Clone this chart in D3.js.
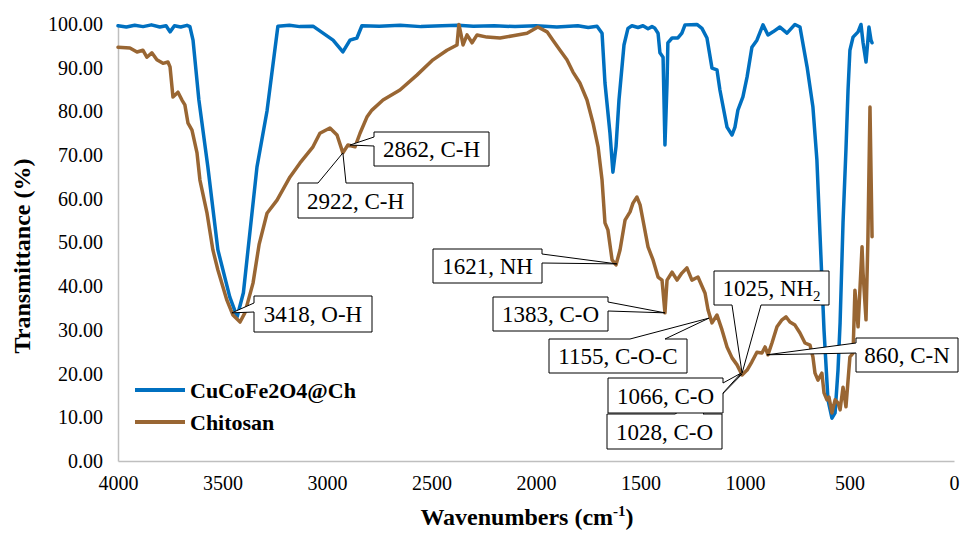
<!DOCTYPE html>
<html>
<head>
<meta charset="utf-8">
<script src="https://cdn.jsdelivr.net/npm/d3@7"></script>
<style>
  body { margin: 0; background: #fff; }
  svg, svg text { font-family: "Liberation Serif", Tinos, "Times New Roman", "DejaVu Serif", serif; }
  svg { display: block; }
</style>
</head>
<body>
<div id="chart"></div>
<script>
// FTIR spectra: [wavenumber cm-1, transmittance %]
const compositeSpectrum = [
  [4000, 99.6], [3960, 99.3], [3920, 99.7], [3880, 99.4], [3840, 99.8], [3800, 99.3], [3770, 99.6],
  [3751, 98.2], [3730, 99.6], [3700, 99.3], [3670, 99.7], [3656, 99.4], [3641, 96.3], [3613, 82.6],
  [3570, 67.3], [3522, 48.3], [3465, 37.5], [3430, 33.0], [3400, 38.5], [3378, 48.3], [3335, 67.3],
  [3287, 80.1], [3235, 99.5], [3180, 99.7], [3130, 99.4], [3067, 99.5], [2971, 96.3], [2924, 93.6],
  [2890, 96.3], [2857, 96.8], [2833, 99.6], [2750, 99.5], [2650, 99.7], [2550, 99.4], [2450, 99.6],
  [2373, 99.7], [2300, 99.5], [2200, 99.6], [2100, 99.4], [2000, 99.6], [1900, 99.3], [1800, 99.6],
  [1750, 99.2], [1708, 99.5], [1684, 97.9], [1670, 86.5], [1646, 75.0], [1632, 66.1], [1617, 72.0],
  [1603, 82.6], [1579, 95.2], [1560, 99.0], [1541, 99.6], [1512, 99.2], [1488, 99.6], [1464, 98.9],
  [1445, 99.4], [1431, 99.0], [1416, 97.9], [1407, 93.4], [1392, 92.4], [1383, 72.3], [1373, 86.5],
  [1369, 95.7], [1349, 96.8], [1321, 96.8], [1302, 97.9], [1287, 99.8], [1230, 99.9], [1206, 99.0],
  [1182, 96.8], [1158, 89.9], [1134, 89.5], [1120, 84.9], [1086, 76.4], [1062, 74.6], [1048, 76.4],
  [1034, 80.3], [1010, 83.3], [990, 87.9], [967, 94.7], [943, 96.3], [914, 99.8], [890, 97.5],
  [866, 98.2], [833, 99.3], [799, 97.9], [761, 99.9], [737, 99.3], [703, 90.2], [675, 81.0],
  [656, 68.9], [641, 51.7], [622, 30.0], [603, 14.0], [584, 9.8], [569, 11.0], [555, 20.8],
  [545, 31.6], [531, 54.5], [517, 71.2], [507, 84.9], [498, 94.0], [483, 97.0], [459, 98.2],
  [445, 99.9], [435, 95.7], [421, 91.3], [412, 96.3], [407, 99.3], [397, 96.3], [392, 95.7]
];

const chitosanSpectrum = [
  [4000, 94.7], [3943, 94.5], [3909, 93.6], [3881, 94.0], [3862, 92.4], [3838, 93.4], [3814, 91.8],
  [3785, 91.0], [3761, 91.3], [3751, 90.2], [3737, 83.3], [3713, 84.4], [3694, 82.6], [3680, 81.5],
  [3665, 77.3], [3646, 75.7], [3622, 70.5], [3608, 64.3], [3574, 56.7], [3546, 48.3], [3522, 43.7],
  [3479, 36.8], [3450, 33.4], [3416, 31.8], [3393, 33.9], [3354, 40.7], [3325, 49.5], [3287, 56.7],
  [3239, 59.7], [3177, 65.0], [3129, 68.2], [3067, 71.9], [3034, 75.0], [2986, 76.2], [2952, 74.6],
  [2924, 70.5], [2900, 72.3], [2866, 71.9], [2842, 75.0], [2809, 78.7], [2785, 80.3], [2732, 82.6],
  [2651, 84.9], [2570, 88.3], [2493, 91.8], [2426, 94.0], [2378, 95.2], [2369, 99.9], [2359, 97.7],
  [2349, 95.2], [2330, 97.5], [2306, 95.7], [2282, 97.5], [2235, 97.0], [2172, 96.8], [2110, 97.3],
  [2043, 97.9], [1991, 99.3], [1947, 98.2], [1919, 96.3], [1885, 94.0], [1852, 91.8], [1823, 89.0],
  [1790, 86.5], [1756, 82.6], [1727, 77.3], [1703, 71.9], [1684, 64.3], [1670, 54.5], [1656, 52.9],
  [1636, 46.0], [1617, 44.9], [1598, 48.3], [1574, 55.1], [1550, 57.0], [1536, 59.0], [1517, 60.4],
  [1502, 58.6], [1488, 55.1], [1464, 49.0], [1440, 46.0], [1416, 42.1], [1397, 41.4], [1383, 33.9],
  [1373, 41.4], [1349, 43.2], [1325, 41.4], [1302, 43.0], [1278, 44.2], [1254, 41.4], [1225, 42.1],
  [1191, 38.4], [1177, 34.6], [1158, 31.6], [1134, 33.4], [1110, 30.0], [1086, 26.1], [1062, 23.6],
  [1038, 22.0], [1014, 19.7], [990, 20.8], [967, 22.7], [943, 24.9], [919, 24.7], [904, 26.1],
  [890, 24.3], [871, 27.0], [847, 30.7], [823, 32.3], [804, 33.0], [785, 31.8], [761, 31.1],
  [737, 29.3], [713, 27.0], [689, 26.5], [675, 23.8], [665, 20.1], [651, 18.5], [632, 20.1],
  [622, 15.6], [608, 14.0], [598, 14.6], [584, 11.0], [569, 14.0], [555, 13.3], [545, 11.7],
  [531, 16.9], [517, 12.4], [498, 23.8], [483, 24.7], [474, 39.1], [459, 30.7], [440, 49.0],
  [435, 43.0], [421, 32.3], [412, 50.6], [402, 81.0], [392, 51.3]
];

const seriesNames = ["CuCoFe2O4@Ch", "Chitosan"];
const seriesColors = ["#0070C0", "#996633"];

const xTicks = [4000, 3500, 3000, 2500, 2000, 1500, 1000, 500, 0];
const yTicks = [0, 10, 20, 30, 40, 50, 60, 70, 80, 90, 100];

// peak labels and the point each callout points at [wavenumber, transmittance]
const peakLabels = ["3418, O-H", "2922, C-H", "2862, C-H", "1621, NH", "1383, C-O",
                    "1155, C-O-C", "1028, C-O", "1066, C-O", "1025, NH|2", "860, C-N"];
const peakPoints = [[3455, 33.9], [2924, 70.5], [2890, 72.3], [1613, 45.1], [1383, 33.9],
                    [1172, 32.7], [1014, 19.9], [1019, 20.1], [1014, 20.1], [895, 24.3]];

// callout box layout (pixels): x, y, w, h, wedge side, wedge base a..b along that side
const calloutBoxes = [
  {x: 254, y: 296, w: 118, h: 36, side: "left",   a: 303, b: 312},
  {x: 298, y: 183, w: 115, h: 35, side: "top",    a: 318, b: 346},
  {x: 374, y: 132, w: 115, h: 34, side: "left",   a: 137, b: 146},
  {x: 433, y: 249, w: 109, h: 34, side: "right",  a: 254, b: 263},
  {x: 493, y: 297, w: 115, h: 34, side: "right",  a: 302, b: 311},
  {x: 549, y: 339, w: 138, h: 34, side: "top",    a: 630, b: 665},
  {x: 607, y: 414, w: 115, h: 35, side: "top",    a: 675, b: 703},
  {x: 608, y: 378, w: 115, h: 35, side: "right",  a: 383, b: 393},
  {x: 714, y: 271, w: 115, h: 34, side: "bottom", a: 732, b: 761},
  {x: 856, y: 338, w: 102, h: 34, side: "left",   a: 343, b: 353}
];

const serif = '"Liberation Serif", Tinos, "Times New Roman", "DejaVu Serif", serif';
const width = 960, height = 536;
const plotLeft = 118, plotRight = 954, plotTop = 24, plotBottom = 461;

const svg = d3.select("#chart").append("svg")
    .attr("width", width)
    .attr("height", height)
    .attr("font-family", serif);

const x = d3.scaleLinear().domain([4000, 0]).range([plotLeft, plotRight]);
const y = d3.scaleLinear().domain([0, 100]).range([plotBottom, plotTop]);

// axes - light grey lines, no tick marks
const yAxis = svg.append("g")
    .attr("transform", `translate(${plotLeft},0)`)
    .call(d3.axisLeft(y).tickValues(yTicks).tickFormat(d3.format(".2f")).tickSize(0).tickPadding(15));
const xAxis = svg.append("g")
    .attr("transform", `translate(0,${plotBottom})`)
    .call(d3.axisBottom(x).tickValues(xTicks).tickFormat(d => d).tickSize(0).tickPadding(15));

[yAxis, xAxis].forEach(g => {
  g.attr("font-family", serif).attr("font-size", 20);
  g.select(".domain").attr("stroke", "#BFBFBF").attr("stroke-width", 1.5);
  g.selectAll("text").attr("fill", "#000");
});

// spectra
const line = d3.line().x(d => x(d[0])).y(d => y(d[1]));
[compositeSpectrum, chitosanSpectrum].forEach((data, i) => {
  svg.append("path")
    .datum(data)
    .attr("fill", "none")
    .attr("stroke", seriesColors[i])
    .attr("stroke-width", 3.5)
    .attr("stroke-linejoin", "round")
    .attr("stroke-linecap", "round")
    .attr("d", line);
});

// callouts with a wedge pointing at the peak
function calloutPath(b, tx, ty) {
  const r = b.x + b.w, btm = b.y + b.h;
  if (b.side === "left")
    return `M${b.x},${b.y}H${r}V${btm}H${b.x}V${b.b}L${tx},${ty}L${b.x},${b.a}Z`;
  if (b.side === "top")
    return `M${b.x},${b.y}H${b.a}L${tx},${ty}L${b.b},${b.y}H${r}V${btm}H${b.x}Z`;
  if (b.side === "right")
    return `M${b.x},${b.y}H${r}V${b.a}L${tx},${ty}L${r},${b.b}V${btm}H${b.x}Z`;
  return `M${b.x},${b.y}H${r}V${btm}H${b.b}L${tx},${ty}L${b.a},${btm}H${b.x}Z`;
}

const callouts = svg.selectAll(".callout")
  .data(peakLabels.map((label, i) => ({label, pt: peakPoints[i], box: calloutBoxes[i]})))
  .enter()
    .append("g")
    .attr("class", "callout");

callouts.append("path")
    .attr("d", d => calloutPath(d.box, x(d.pt[0]), y(d.pt[1])))
    .attr("fill", "#fff")
    .attr("stroke", "#000")
    .attr("stroke-width", 1);

const labelText = callouts.append("text")
    .attr("x", d => d.box.x + d.box.w / 2)
    .attr("y", d => d.box.y + d.box.h / 2 + 8)
    .attr("text-anchor", "middle")
    .attr("font-size", 23)
    .attr("fill", "#000");

labelText.each(function(d) {
  const parts = d.label.split("|");
  const t = d3.select(this);
  t.append("tspan").text(parts[0]);
  if (parts[1]) t.append("tspan").attr("font-size", 15).attr("dy", 5).text(parts[1]);
});

// legend
const legend = svg.selectAll(".legend")
  .data(seriesNames)
  .enter()
    .append("g")
    .attr("class", "legend")
    .attr("transform", (d, i) => `translate(135,${390 + i * 32})`);

legend.append("line")
    .attr("x1", 0).attr("x2", 50)
    .attr("stroke", (d, i) => seriesColors[i])
    .attr("stroke-width", 4);

legend.append("text")
    .attr("x", 55)
    .attr("y", 8)
    .attr("font-size", 22)
    .attr("font-weight", "bold")
    .text(d => d);

// axis titles
svg.append("text")
    .attr("transform", "translate(30,256) rotate(-90)")
    .attr("text-anchor", "middle")
    .attr("font-size", 24)
    .attr("font-weight", "bold")
    .text("Transmittance (%)");

const xTitle = svg.append("text")
    .attr("x", 527)
    .attr("y", 525)
    .attr("text-anchor", "middle")
    .attr("font-size", 24)
    .attr("font-weight", "bold");
xTitle.append("tspan").text("Wavenumbers (cm");
xTitle.append("tspan").attr("font-size", 15).attr("dy", -9).text("-1");
xTitle.append("tspan").attr("dy", 9).text(")");
</script>
</body>
</html>
